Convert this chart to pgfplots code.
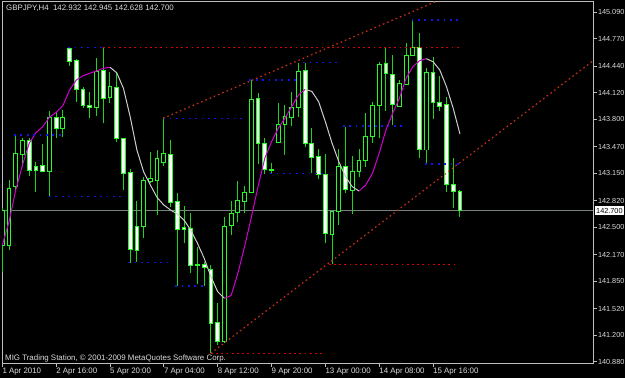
\documentclass[border=0pt]{standalone}
\usepackage{pgfplots}
\pgfplotsset{compat=1.18}
\usepackage{pgfplotstable}
\usepackage{fontspec}
\setmainfont{Liberation Sans}
\definecolor{wickc}{RGB}{30,210,30}
\definecolor{bodyc}{RGB}{40,250,40}
\definecolor{maup}{RGB}{210,0,210}
\definecolor{madn}{RGB}{205,205,205}
\definecolor{lvlred}{RGB}{220,0,0}
\definecolor{lvlblue}{RGB}{20,20,230}
\definecolor{trendred}{RGB}{200,50,20}
\definecolor{bidc}{RGB}{120,130,128}
\definecolor{framec}{RGB}{190,190,190}
\definecolor{txtc}{RGB}{220,220,220}

\pgfplotstableread{
k O H L C
0 142.286 142.732 141.965 142.708
1 142.278 143.069 142.226 142.969
2 142.997 143.612 142.928 143.383
3 143.371 143.575 143.230 143.551
7 143.174 143.904 142.868 143.825
9 143.687 143.913 143.584 143.825
14 143.945 144.536 143.840 144.374
16 144.066 144.374 144.001 144.193
21 142.515 143.109 142.367 143.061
22 143.049 143.410 143.030 143.090
23 143.061 143.431 142.648 143.331
24 143.278 143.825 143.238 143.383
29 142.042 142.266 141.816 142.054
33 141.121 142.627 141.106 142.515
34 142.527 142.820 142.407 142.668
35 142.675 143.061 142.567 142.820
36 142.808 142.997 142.668 142.916
37 142.916 144.274 142.909 144.042
40 143.190 143.278 143.142 143.196
41 143.519 144.001 143.512 143.744
42 143.744 143.973 143.371 143.832
43 143.825 144.133 143.720 143.945
44 143.945 144.483 143.832 144.374
49 142.419 142.700 142.057 142.687
50 142.687 143.439 142.527 143.230
52 142.949 143.358 142.660 143.169
53 143.169 143.439 143.102 143.302
54 143.302 143.873 143.230 143.599
55 143.599 144.013 143.512 143.973
56 143.973 144.495 143.572 144.467
59 143.953 144.274 143.953 144.234
60 144.226 144.716 144.226 144.575
61 144.575 144.997 144.575 144.668
63 143.431 144.415 143.271 144.362
}\bull

\pgfplotstableread{
k O H L C
4 143.543 143.572 143.121 143.190
5 143.238 143.290 142.928 143.190
6 143.247 143.503 143.160 143.169
8 143.825 143.892 143.572 143.687
10 144.648 144.668 144.443 144.495
11 144.507 144.527 144.013 144.162
12 144.162 144.193 143.933 143.965
13 143.973 144.133 143.813 143.945
15 144.383 144.663 143.752 144.054
17 144.186 144.371 143.531 143.572
18 143.572 143.575 142.949 143.142
19 143.157 143.198 142.073 142.234
20 142.515 142.820 142.085 142.226
25 143.371 143.551 142.748 142.796
26 142.808 142.909 141.792 142.475
27 142.499 142.756 142.307 142.475
28 142.487 142.668 141.945 142.045
30 142.054 142.085 141.792 142.018
31 141.993 142.045 140.985 141.343
32 141.350 141.587 141.082 141.121
38 144.054 144.121 143.262 143.512
39 143.512 143.572 143.142 143.198
45 144.386 144.475 143.463 143.512
46 143.512 143.692 143.150 143.343
47 143.350 143.439 143.078 143.130
48 143.138 143.383 142.307 142.427
51 143.238 143.712 142.916 142.957
57 144.475 144.656 143.904 144.355
58 144.346 144.575 143.732 143.985
62 144.663 144.844 143.331 143.439
64 144.362 144.548 143.801 144.001
65 144.001 144.322 143.904 143.961
66 143.981 144.066 142.928 143.021
67 143.017 143.331 142.728 142.928
68 142.932 142.945 142.628 142.700
}\bear

\pgfplotsset{
  ebar/.style 2 args={draw=none, mark=none, forget plot,
    error bars/.cd, y dir=plus, y explicit, error mark=none,
    error bar style={draw=#1, line width=#2}},
  lvl/.style={line width=1.3bp, dash pattern=on 1.8bp off 3.4bp},
  lvlb/.style={line width=1.3bp, dash pattern=on 1.8bp off 4.6bp},
}

\begin{document}
\begin{tikzpicture}
\fill[black] (0,0) rectangle (625bp,378bp);
\useasboundingbox (0,0) rectangle (625bp,378bp);
\clip (0,0) rectangle (625bp,378bp);
\begin{axis}[
  at={(2bp,15bp)}, anchor=south west, scale only axis,
  width=591bp, height=361bp,
  xmin=-0.045, xmax=87.77, ymin=140.865, ymax=145.214,
  axis line style={draw=framec, line width=1bp},
  tick align=outside, major tick length=3.5bp,
  tick style={draw=framec, line width=0.8bp},
  xtick pos=left, ytick pos=right, yticklabel pos=right,
  xtick={0,8,16,24,32,40,48,56,64},
  xticklabels={1 Apr 2010, 2 Apr 16:00, 5 Apr 20:00, 7 Apr 04:00, 8 Apr 12:00, 9 Apr 20:00, 13 Apr 00:00, 14 Apr 08:00, 15 Apr 16:00},
  ytick={145.09,144.77,144.44,144.12,143.80,143.47,143.15,142.82,142.50,142.17,141.85,141.52,141.20,140.88},
  yticklabels={145.090,144.770,144.440,144.120,143.800,143.470,143.150,142.820,142.500,142.170,141.850,141.520,141.200,140.880},
  ticklabel style={text=txtc},
  xticklabel style={font=\fontsize{7.9bp}{9bp}\selectfont, anchor=north west, inner sep=0pt, yshift=-1.5bp},
  yticklabel style={font=\fontsize{7.3bp}{9bp}\selectfont, anchor=west, inner sep=0pt, xshift=1.3bp},
  clip mode=individual,
]
% bid line
\addplot[bidc, line width=0.9bp, forget plot] coordinates {(-1,142.7) (90,142.7)};
% wicks
\addplot[ebar={wickc}{1bp}] table[x=k, y=L, y error plus expr={\thisrow{H}-\thisrow{L}}] {\bull};
\addplot[ebar={wickc}{1bp}] table[x=k, y=L, y error plus expr={\thisrow{H}-\thisrow{L}}] {\bear};
% bodies
\addplot[ebar={bodyc}{4.8bp}] table[x=k, y expr={min(\thisrow{O},\thisrow{C})-0.006}, y error plus expr={abs(\thisrow{C}-\thisrow{O})+0.012}] {\bull};
\addplot[ebar={black}{2.8bp}] table[x=k, y expr={min(\thisrow{O},\thisrow{C})+0.006}, y error plus expr={max(abs(\thisrow{C}-\thisrow{O})-0.012,0)}] {\bull};
\addplot[ebar={bodyc}{4.8bp}] table[x=k, y expr={min(\thisrow{O},\thisrow{C})-0.006}, y error plus expr={abs(\thisrow{C}-\thisrow{O})+0.012}] {\bear};
\addplot[ebar={white}{2.8bp}] table[x=k, y expr={min(\thisrow{O},\thisrow{C})+0.006}, y error plus expr={max(abs(\thisrow{C}-\thisrow{O})-0.012,0)}] {\bear};
% moving average
\addplot[maup, line width=1bp] coordinates {(0,142.286) (1,142.567) (2,142.949) (3,143.250) (4,143.512) (5,143.639) (6,143.712) (7,143.825) (8,143.885) (9,143.965) (10,144.154) (11,144.274) (12,144.326) (13,144.355) (14,144.383) (15,144.415) (16,144.427)};
\addplot[madn, line width=1bp] coordinates {(16,144.427) (17,144.362) (18,144.174) (19,143.832) (20,143.431) (21,143.169) (22,143.009) (23,142.859) (24,142.768) (25,142.708) (26,142.660) (27,142.587) (28,142.467) (29,142.307) (30,142.126) (31,141.904) (32,141.724) (33,141.644)};
\addplot[maup, line width=1bp] coordinates {(33,141.644) (34,141.678) (35,141.945) (36,142.266) (37,142.620) (38,142.989) (39,143.331) (40,143.531) (41,143.692) (42,143.813) (43,143.953) (44,144.093) (45,144.162)};
\addplot[madn, line width=1bp] coordinates {(45,144.162) (46,144.136) (47,144.013) (48,143.772) (49,143.512) (50,143.290) (51,143.109) (52,142.989) (53,142.937)};
\addplot[maup, line width=1bp] coordinates {(53,142.937) (54,143.009) (55,143.150) (56,143.391) (57,143.672) (58,143.873) (59,144.054) (60,144.295) (61,144.434) (62,144.507) (63,144.531)};
\addplot[madn, line width=1bp] coordinates {(63,144.531) (64,144.495) (65,144.395) (66,144.193) (67,143.933) (68,143.624)};
% blue levels
\addplot[lvlblue, lvlb] coordinates {(9.8,144.663) (15,144.663)};
\addplot[lvlblue, lvlb] coordinates {(1.74,143.612) (9.0,143.612)};
\addplot[lvlblue, lvlb] coordinates {(6.94,142.868) (18.1,142.868)};
\addplot[lvlblue, lvlb] coordinates {(23.9,143.813) (35.8,143.813)};
\addplot[lvlblue, lvlb] coordinates {(39.8,143.150) (47.65,143.150)};
\addplot[lvlblue, lvlb] coordinates {(44.7,144.485) (50.0,144.485)};
\addplot[lvlblue, lvlb] coordinates {(36.7,144.274) (43.8,144.274)};
\addplot[lvlblue, lvlb] coordinates {(50.6,143.720) (59.8,143.720)};
\addplot[lvlblue, lvlb] coordinates {(60.8,144.997) (67.9,144.997)};
\addplot[lvlblue, lvlb] coordinates {(62.8,143.262) (67.9,143.262)};
\addplot[lvlblue, lvlb] coordinates {(25.7,141.792) (30.1,141.792)};
\addplot[lvlblue, lvlb] coordinates {(18.7,142.073) (24.9,142.073)};
% red levels
\addplot[lvlred, lvl] coordinates {(15,144.663) (67.8,144.663)};
\addplot[lvlred, lvl] coordinates {(31,140.981) (48,140.981)};
\addplot[lvlred, lvl] coordinates {(48.5,142.054) (67.8,142.054)};
% trend lines
\addplot[trendred, line width=1.2bp, dash pattern=on 1.6bp off 3bp] coordinates {(23.88,143.813) (66,145.273)};
\addplot[trendred, line width=1.2bp, dash pattern=on 1.6bp off 3bp] coordinates {(30.97,140.981) (88.5,144.551)};
% bid label
\node[anchor=west, fill=white, text=black, inner xsep=1bp, inner ysep=1.7bp, xshift=2bp, font=\fontsize{7.3bp}{9bp}\selectfont] at (axis cs:87.77,142.7) {142.700};
\end{axis}
\node[anchor=base west, inner sep=0pt, text=txtc, font=\fontsize{7.9bp}{9bp}\selectfont] at (6bp,367bp) {GBPJPY,H4\ \ 142.932 142.945 142.628 142.700};
\node[anchor=base west, inner sep=0pt, text=txtc, font=\fontsize{7.9bp}{9bp}\selectfont] at (5bp,18bp) {MIG Trading Station, © 2001-2009 MetaQuotes Software Corp.};
\end{tikzpicture}
\end{document}
